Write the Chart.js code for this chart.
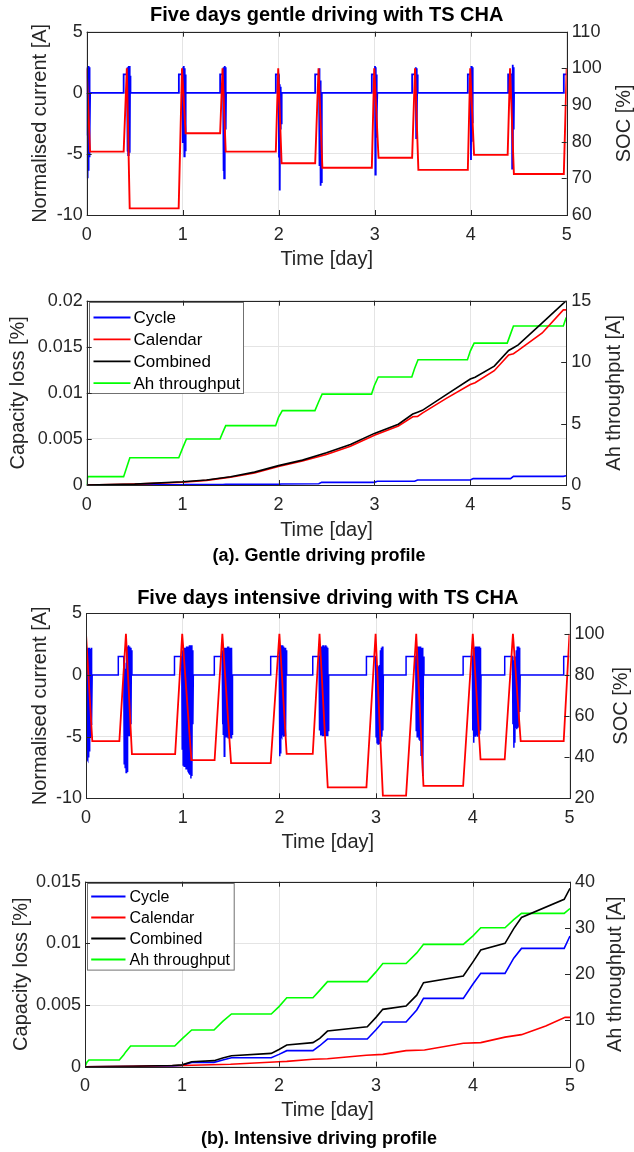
<!DOCTYPE html>
<html><head><meta charset="utf-8">
<script src="https://cdn.jsdelivr.net/npm/chart.js@4.4.1/dist/chart.umd.min.js"></script>
<style>
html,body{margin:0;padding:0;background:#fff;}
body{width:634px;height:1152px;position:relative;overflow:hidden;font-family:"Liberation Sans",Arial,sans-serif;}
canvas{position:absolute;left:0;}
.cap{position:absolute;left:0;width:638px;text-align:center;font-weight:bold;font-size:18px;line-height:22px;color:#000;}
</style></head><body>
<canvas id="c1" width="634" height="275" style="top:0px;width:634px;height:275px"></canvas>
<canvas id="c2" width="634" height="270" style="top:280px;width:634px;height:270px"></canvas>
<div class="cap" style="top:544px">(a). Gentle driving profile</div>
<canvas id="c3" width="634" height="280" style="top:580px;width:634px;height:280px"></canvas>
<canvas id="c4" width="634" height="270" style="top:865px;width:634px;height:270px"></canvas>
<div class="cap" style="top:1127px">(b). Intensive driving profile</div>
<script>
// ---------------- tick labels / categories ----------------
const dayTicks = [0,1,2,3,4,5];
const currentTicks = [-10,-5,0,5];
const socTicksGentle = [60,70,80,90,100,110];
const socTicksIntensive = [20,40,60,80,100];
const lossTicksGentle = [0,0.005,0.01,0.015,0.02];
const ahTicksGentle = [0,5,10,15];
const lossTicksIntensive = [0,0.005,0.01,0.015];
const ahTicksIntensive = [0,10,20,30,40];
const seriesLabels = ['Cycle','Calendar','Combined','Ah throughput'];

// ---------------- (a) gentle: normalised current ----------------
const gentleCurT = [
0,0.004,0.008,0.012,0.016,0.02,0.024,0.028,0.032,0.036,
0.385,0.385,0.42,0.424,0.428,0.432,0.436,0.44,0.444,0.448,0.452,0.456,
0.96,0.96,0.997,1.001,1.005,1.009,1.013,1.017,1.021,1.025,1.029,1.033,
1.39,1.39,1.42,1.424,1.428,1.432,1.436,1.44,1.444,1.448,1.452,
1.97,1.97,2.0,2.003,2.007,2.011,2.015,2.019,2.023,2.027,2.031,
2.38,2.38,2.42,2.423,2.427,2.431,2.435,2.439,2.443,2.447,2.451,
2.97,2.97,3.0,3.003,3.007,3.011,3.015,3.019,3.023,3.027,
3.39,3.39,3.425,3.428,3.432,3.436,3.44,3.444,3.448,
3.97,3.97,4.0,4.003,4.007,4.011,4.015,4.019,4.023,
4.39,4.39,4.43,4.432,4.436,4.44,4.444,4.448,4.452,
4.97,4.97,5.0];
const gentleCurI = [
-3.5,2.1,-7.0,2.0,-6.3,2.2,-5.2,2.1,-3.8,0,
0,1.5,1.5,-4.8,2.1,-5.1,2.2,-3.6,2.2,-4.9,1.4,0,
0,1.5,1.5,-4.1,2.1,-3.4,2.2,-5.2,2.0,-4.7,1.5,0,
0,1.5,1.5,-6.4,2.1,-7.0,2.2,-4.5,2.1,-3.0,0,
0,1.5,1.5,-5.3,0.7,-8.0,0.5,-3.0,0.3,-2.5,0,
0,1.5,1.5,2.0,-6.0,1.0,-7.6,-5.0,-7.3,-1.0,0,
0,1.5,1.5,2.2,-6.7,2.1,-3.6,1.5,-2.0,0,
0,1.5,1.5,2.1,-3.7,2.0,-2.5,1.5,0,
0,1.5,1.5,-5.5,2.2,-4.0,2.1,-2.5,0,
0,1.5,1.5,-6.2,2.3,-5.5,2.1,-3.0,0,
0,1.5,1.5];
// (a) gentle: SOC
const gentleSocT = [0,0.035,0.385,0.418,0.448,0.958,0.993,1.03,1.39,1.415,1.448,1.97,1.995,2.03,2.38,2.415,2.455,2.97,2.995,3.04,3.39,3.42,3.455,3.97,3.995,4.035,4.385,4.41,4.45,4.97,5.0];
const gentleSocV = [100,77.3,77.3,100,61.8,61.8,100,82.3,82.3,100,77.3,77.3,100,74.1,74.1,100,72.9,72.9,100,75.6,75.6,100,72.3,72.3,100,76.4,76.4,100,71.2,71.2,100];

// (a) gentle: capacity loss
const gentleCapT = [0,0.5,1.0,1.25,1.5,1.75,2.0,2.25,2.5,2.75,3.0,3.25,3.4,3.45,3.5,3.75,4.0,4.05,4.25,4.4,4.45,4.5,4.75,4.97,5.0];
const gentleCombined = [0,0.0001,0.00035,0.00055,0.0009,0.0014,0.0021,0.0027,0.0035,0.0044,0.0056,0.0066,0.0077,0.0079,0.0081,0.0098,0.0115,0.0117,0.0129,0.0146,0.0149,0.0152,0.0176,0.0197,0.0200];
const gentleCalendar = [0,0.0001,0.0003,0.0005,0.00085,0.0013,0.002,0.0026,0.0033,0.0042,0.0054,0.0064,0.0074,0.00745,0.0078,0.0094,0.0109,0.0111,0.0124,0.0141,0.01425,0.0146,0.0165,0.0190,0.0190];
const gentleCycT = [0,0.42,0.45,1.0,1.03,1.42,1.45,2.0,2.03,2.42,2.45,3.0,3.03,3.42,3.45,4.0,4.03,4.42,4.45,4.97,5.0];
const gentleCycle = [0,0,0.00002,0.00002,0.00004,0.00004,0.00007,0.00007,0.00011,0.00013,0.00029,0.00029,0.0004,0.0004,0.00054,0.00054,0.00069,0.00069,0.00094,0.00094,0.00101];
const gentleAhT = [0,0.01,0.385,0.42,0.45,0.96,1.0,1.04,1.39,1.42,1.45,1.97,2.0,2.04,2.38,2.42,2.455,2.97,3.0,3.04,3.39,3.42,3.455,3.97,4.0,4.04,4.385,4.42,4.45,4.97,5.0];
const gentleAh = [0,0.68,0.68,1.5,2.22,2.22,3.0,3.74,3.74,4.3,4.83,4.83,5.5,6.05,6.05,6.8,7.4,7.4,8.1,8.79,8.79,9.5,10.2,10.2,10.9,11.55,11.55,12.3,12.94,12.94,13.64];

// ---------------- (b) intensive: normalised current ----------------
const intCurT = [
0,0.004,0.008,0.012,0.016,0.02,0.024,0.028,0.032,0.036,0.04,0.044,0.048,0.052,0.056,0.06,0.064,
0.334,0.334,0.39,0.395,0.4,0.405,0.41,0.415,0.42,0.425,0.43,0.435,0.44,0.445,0.45,0.455,0.46,0.465,0.47,0.475,
0.915,0.915,0.99,0.995,1.0,1.005,1.01,1.015,1.02,1.025,1.03,1.035,1.04,1.045,1.05,1.055,1.06,1.065,1.07,1.075,1.08,1.085,1.09,1.095,1.1,1.105,1.11,
1.327,1.327,1.408,1.412,1.416,1.42,1.425,1.43,1.435,1.44,1.445,1.45,1.455,1.46,1.465,1.47,1.475,1.48,1.485,1.49,1.495,1.5,1.505,1.51,1.515,
1.91,1.91,1.998,2.002,2.006,2.01,2.014,2.018,2.022,2.026,2.03,2.034,2.038,2.042,2.046,2.05,2.054,2.058,2.062,2.066,2.07,2.075,
2.345,2.345,2.41,2.415,2.42,2.425,2.43,2.435,2.44,2.445,2.45,2.455,2.46,2.465,2.47,2.475,2.48,2.485,2.49,2.495,2.5,2.505,2.51,
2.9,2.9,2.99,2.995,3.0,3.005,3.01,3.015,3.02,3.025,3.03,3.035,3.04,3.045,3.05,3.055,3.06,3.065,3.07,3.075,
3.31,3.31,3.41,3.415,3.42,3.425,3.43,3.435,3.44,3.445,3.45,3.455,3.46,3.465,3.47,3.475,3.48,3.485,3.49,3.495,
3.9,3.9,3.995,4.0,4.005,4.01,4.015,4.02,4.025,4.03,4.035,4.04,4.045,4.05,4.055,4.06,4.065,4.07,4.075,4.08,4.085,
4.33,4.33,4.41,4.415,4.42,4.425,4.43,4.435,4.44,4.445,4.45,4.455,4.46,4.465,4.47,4.475,4.48,4.485,4.49,
4.94,4.94,5.0];
const intCurI = [
2.2,-6.5,2.2,-6.8,2.1,-6.9,2.2,-6.7,2.2,-6.2,2.2,-5.0,2.1,-4.0,2.2,-3.8,0,
0,1.5,1.5,-7.2,1.0,-7.5,0.5,-7.9,2.0,-7.8,2.3,-4.8,2.4,-4.9,2.3,-4.8,2.2,-4.0,2.0,0,
0,1.5,1.5,-6.0,2.0,-7.3,2.1,-7.4,2.2,-7.3,2.2,-7.6,2.3,-7.5,2.3,-7.8,2.3,-7.9,2.4,-8.1,2.4,-8.4,2.4,-8.2,2.0,-4.0,0,
0,1.5,1.5,-4.0,2.0,-4.8,2.1,-6.6,2.2,-4.9,2.2,-5.0,2.2,-5.0,2.3,-5.1,2.3,-5.0,2.2,-5.0,2.2,-5.1,2.2,-4.8,0,
0,1.5,1.5,-6.6,2.2,-6.3,2.3,-4.9,2.4,-5.0,2.4,-4.9,2.3,-5.0,2.3,-4.8,2.2,-4.9,2.2,-4.7,2.0,0,
0,1.5,1.5,-4.5,2.2,-4.9,2.3,-4.8,2.3,-4.9,2.4,-4.9,2.4,-4.8,2.3,-4.9,2.4,-4.8,2.3,-4.9,2.2,-4.5,0,
0,1.5,1.5,0.5,-5.0,0.8,-5.5,0.8,-5.6,0.7,-5.3,0.8,-5.6,2.0,-5.4,2.2,-5.0,2.3,-4.5,0,
0,1.5,1.5,-4.5,2.2,-5.0,2.3,-5.0,2.3,-5.2,2.3,-5.3,2.3,-6.5,2.2,-5.0,2.2,-8.2,1.5,0,
0,1.5,1.5,-4.5,2.0,-5.5,2.2,-5.0,2.3,-5.0,2.3,-4.9,2.3,-5.0,2.2,-4.9,2.3,-4.8,2.2,-4.5,0,
0,1.5,1.5,-4.0,1.0,-5.9,1.2,-5.5,1.5,-4.3,2.0,-4.4,2.3,-4.3,2.3,-4.2,2.2,-3.0,0,
0,1.5,1.5];
// (b) intensive: SOC
const intSocT = [0,0.065,0.345,0.413,0.475,0.922,0.995,1.09,1.33,1.41,1.5,1.91,2.0,2.075,2.345,2.415,2.5,2.9,2.995,3.07,3.31,3.415,3.49,3.9,4.0,4.08,4.33,4.415,4.495,4.94,5.0];
const intSocV = [100,47.8,47.8,100,41.5,41.5,100,38.6,38.6,100,37.1,37.1,100,41.6,41.6,100,25.3,25.3,100,21.3,21.3,100,26.0,26.0,100,38.9,38.9,100,47.8,47.8,100];

// (b) intensive: capacity loss
const intCapT = [0,0.5,0.9,1.0,1.1,1.33,1.42,1.51,1.92,2.0,2.08,2.35,2.42,2.5,2.91,3.0,3.07,3.31,3.42,3.49,3.9,4.0,4.08,4.33,4.42,4.5,4.94,5.0];
const intCombined = [0,0.00003,0.0001,0.00015,0.0004,0.00049,0.0007,0.00089,0.00108,0.0014,0.00176,0.00195,0.0023,0.00289,0.00324,0.004,0.00465,0.00492,0.0058,0.00681,0.00735,0.0085,0.00946,0.01,0.0112,0.0121,0.01357,0.01446];
const intCycle = [0,0.00001,0.00005,0.0001,0.00035,0.00035,0.00055,0.00073,0.00073,0.001,0.0013,0.0013,0.0017,0.00224,0.00224,0.003,0.00362,0.00362,0.0046,0.00554,0.00554,0.0067,0.00757,0.00757,0.0088,0.00959,0.00959,0.0106];
const intCalT = [0,0.5,1.0,1.5,2.0,2.08,2.35,2.5,2.9,3.07,3.31,3.5,3.9,4.08,4.33,4.5,4.75,4.95,5.0];
const intCalendar = [0,0.00003,0.0001,0.0002,0.0004,0.00043,0.0006,0.00065,0.00093,0.001,0.0013,0.00135,0.0019,0.00195,0.0024,0.0026,0.0033,0.004,0.004];
const intAhT = [0,0.02,0.04,0.354,0.40,0.42,0.47,0.925,1.0,1.1,1.33,1.42,1.51,1.92,2.0,2.08,2.35,2.42,2.5,2.91,3.0,3.07,3.31,3.42,3.49,3.9,4.0,4.08,4.33,4.42,4.5,4.94,5.0];
const intAh = [0,1.0,1.44,1.44,2.6,3.2,4.47,4.47,6.0,7.93,7.93,9.8,11.4,11.4,13.0,14.9,14.9,16.5,18.4,18.4,20.5,22.3,22.3,24.6,26.45,26.45,28.3,30.05,30.05,31.8,33.15,33.15,34.2];

// ---------------- helpers ----------------
const FONT = '"Liberation Sans", Arial, Helvetica, sans-serif';
const AXC = '#262626';
const GRID = '#e4e4e4';
const BLUE = '#0000ff', RED = '#ff0000', BLACK = '#000000', GREEN = '#00ff00';
function pts(t, v){ return t.map((x,i)=>({x:x, y:v[i]})); }
function fixTicks(arr){ return s => { s.ticks = arr.map(v=>({value:v})); }; }

const framePlugin = {
  id:'frame',
  afterDatasetsDraw(chart, args, o){
    const ctx = chart.ctx, a = chart.chartArea, sc = chart.scales;
    ctx.save();
    if (o.legend) {
      const L = o.legend;
      const bx = Math.round(a.left + L.dx) + 0.5, by = Math.round(a.top + L.dy) + 0.5;
      ctx.fillStyle = '#ffffff';
      ctx.fillRect(bx, by, L.w, L.h);
      ctx.strokeStyle = '#707070'; ctx.lineWidth = 1;
      ctx.strokeRect(bx, by, L.w, L.h);
      ctx.font = L.size + 'px ' + FONT;
      ctx.textBaseline = 'middle'; ctx.textAlign = 'left';
      chart.data.datasets.forEach((d, i) => {
        const yy = by + L.row0 + i * L.rowH;
        ctx.strokeStyle = d.borderColor; ctx.lineWidth = 1.8;
        ctx.beginPath(); ctx.moveTo(bx + L.l0, yy); ctx.lineTo(bx + L.l1, yy); ctx.stroke();
        ctx.fillStyle = '#000';
        ctx.fillText(d.label, bx + L.tx, yy + 1);
      });
    }
    const tl = 5;
    ctx.strokeStyle = AXC; ctx.lineWidth = 1;
    ctx.beginPath();
    sc.x.ticks.forEach(t => {
      const p = Math.round(sc.x.getPixelForValue(t.value)) + 0.5;
      ctx.moveTo(p, a.bottom); ctx.lineTo(p, a.bottom - tl);
      ctx.moveTo(p, a.top); ctx.lineTo(p, a.top + tl);
    });
    sc.yL.ticks.forEach(t => {
      const p = Math.round(sc.yL.getPixelForValue(t.value)) + 0.5;
      ctx.moveTo(a.left, p); ctx.lineTo(a.left + tl, p);
    });
    sc.yR.ticks.forEach(t => {
      const p = Math.round(sc.yR.getPixelForValue(t.value)) + 0.5;
      ctx.moveTo(a.right, p); ctx.lineTo(a.right - tl, p);
    });
    ctx.stroke();
    const l = Math.round(a.left) + 0.5, tp = Math.round(a.top) + 0.5;
    ctx.strokeRect(l, tp, Math.round(a.right) - Math.round(a.left), Math.round(a.bottom) - Math.round(a.top));
    if (o.rightTitle) {
      ctx.translate(o.rightTitle.x, (a.top + a.bottom) / 2);
      ctx.rotate(-Math.PI / 2);
      ctx.fillStyle = AXC;
      ctx.font = '20px ' + FONT;
      ctx.textAlign = 'center'; ctx.textBaseline = 'middle';
      ctx.fillText(o.rightTitle.text, 0, 0);
    }
    ctx.restore();
  }
};

function tickFont(){ return {family:FONT, size:18}; }
function fmt(v){ return String(v); }

function makeChart(id, c){
  return new Chart(document.getElementById(id), {
    type:'line',
    data:{datasets:c.datasets},
    options:{
      responsive:false, animation:false, devicePixelRatio:1,
      layout:{padding:{top:c.padTop, left:0, right:0, bottom:0}},
      plugins:{
        legend:{display:false}, tooltip:{enabled:false},
        title: c.title ? {display:true, text:c.title, fullSize:false, color:'#000',
          font:{family:FONT, size:20, weight:'bold', lineHeight:1.2},
          padding:{top:c.tPadTop, bottom:c.tPadBottom}} : {display:false},
        frame:{legend:c.legend, rightTitle:c.rightTitle}
      },
      elements:{point:{radius:0}, line:{tension:0, borderWidth:1.6}},
      scales:{
        x:{type:'linear', position:'bottom', min:0, max:5,
          afterBuildTicks:fixTicks(dayTicks),
          afterFit:s=>{ s.height = c.xH; },
          grid:{color:GRID, drawTicks:false, lineWidth:1},
          border:{display:false},
          ticks:{font:tickFont(), color:AXC, padding:9, maxRotation:0, autoSkip:false, callback:fmt},
          title:{display:true, text:'Time [day]', color:AXC, font:{family:FONT, size:20, lineHeight:1.2}, padding:{top:0, bottom:c.xTitlePad}}
        },
        yL:{type:'linear', position:'left', min:c.yL.min, max:c.yL.max,
          afterBuildTicks:fixTicks(c.yL.ticks),
          afterFit:s=>{ s.width = c.left; },
          grid:{color:GRID, drawTicks:false, lineWidth:1},
          border:{display:false},
          ticks:{font:tickFont(), color:AXC, padding:4, autoSkip:false, callback:fmt},
          title:{display:true, text:c.yL.title, color:AXC, font:{family:FONT, size:20, lineHeight:1.2}, padding:{top:c.yL.tpad, bottom:0}}
        },
        yR:{type:'linear', position:'right', min:c.yR.min, max:c.yR.max,
          afterBuildTicks:fixTicks(c.yR.ticks),
          afterFit:s=>{ s.width = 634 - c.right; },
          grid:{display:false, drawTicks:false},
          border:{display:false},
          ticks:{font:tickFont(), color:AXC, padding:5, autoSkip:false, callback:fmt},
          title:{display:false}
        }
      }
    },
    plugins:[framePlugin]
  });
}

makeChart('c1', {
  title:'Five days gentle driving with TS CHA', padTop:0, tPadTop:3, tPadBottom:4.7,
  left:86.7, right:566.7, xH:60, xTitlePad:4,
  yL:{min:-10, max:5, ticks:currentTicks, title:'Normalised current [A]', tpad:28},
  yR:{min:60, max:110, ticks:socTicksGentle},
  rightTitle:{text:'SOC [%]', x:624},
  datasets:[
    {label:'Current', data:pts(gentleCurT, gentleCurI), borderColor:BLUE, yAxisID:'yL', borderWidth:1.8, order:1},
    {label:'SOC', data:pts(gentleSocT, gentleSocV), borderColor:RED, yAxisID:'yR', borderWidth:1.9, order:0}
  ]
});

makeChart('c2', {
  title:null, padTop:20.7,
  left:86.7, right:566.2, xH:65, xTitlePad:8,
  yL:{min:0, max:0.02, ticks:lossTicksGentle, title:'Capacity loss [%]', tpad:6},
  yR:{min:0, max:15, ticks:ahTicksGentle},
  rightTitle:{text:'Ah throughput [A]', x:614},
  legend:{dx:2.6, dy:1, w:154, h:91, row0:15, rowH:21.9, l0:4, l1:41, tx:44, size:17},
  datasets:[
    {label:seriesLabels[0], data:pts(gentleCycT, gentleCycle), borderColor:BLUE, yAxisID:'yL', order:2},
    {label:seriesLabels[1], data:pts(gentleCapT, gentleCalendar), borderColor:RED, yAxisID:'yL', order:1},
    {label:seriesLabels[2], data:pts(gentleCapT, gentleCombined), borderColor:BLACK, yAxisID:'yL', order:0},
    {label:seriesLabels[3], data:pts(gentleAhT, gentleAh), borderColor:GREEN, yAxisID:'yR', order:3}
  ]
});

makeChart('c3', {
  title:'Five days intensive driving with TS CHA', padTop:0, tPadTop:6, tPadBottom:3.3,
  left:86, right:569.5, xH:61.7, xTitlePad:5.3,
  yL:{min:-10, max:5, ticks:currentTicks, title:'Normalised current [A]', tpad:28},
  yR:{min:20, max:110, ticks:socTicksIntensive},
  rightTitle:{text:'SOC [%]', x:621.5},
  datasets:[
    {label:'Current', data:pts(intCurT, intCurI), borderColor:BLUE, yAxisID:'yL', borderWidth:1.5, order:1},
    {label:'SOC', data:pts(intSocT, intSocV), borderColor:RED, yAxisID:'yR', borderWidth:1.8, order:0}
  ]
});

makeChart('c4', {
  title:null, padTop:16.7,
  left:85, right:570, xH:68.3, xTitlePad:13,
  yL:{min:0, max:0.015, ticks:lossTicksIntensive, title:'Capacity loss [%]', tpad:9},
  yR:{min:0, max:40, ticks:ahTicksIntensive},
  rightTitle:{text:'Ah throughput [A]', x:615},
  legend:{dx:2.3, dy:1, w:146.7, h:86.6, row0:13, rowH:21, l0:3.7, l1:38, tx:42, size:16},
  datasets:[
    {label:seriesLabels[0], data:pts(intCapT, intCycle), borderColor:BLUE, yAxisID:'yL', order:2},
    {label:seriesLabels[1], data:pts(intCalT, intCalendar), borderColor:RED, yAxisID:'yL', order:1},
    {label:seriesLabels[2], data:pts(intCapT, intCombined), borderColor:BLACK, yAxisID:'yL', order:0},
    {label:seriesLabels[3], data:pts(intAhT, intAh), borderColor:GREEN, yAxisID:'yR', order:3}
  ]
});
</script>
</body></html>
